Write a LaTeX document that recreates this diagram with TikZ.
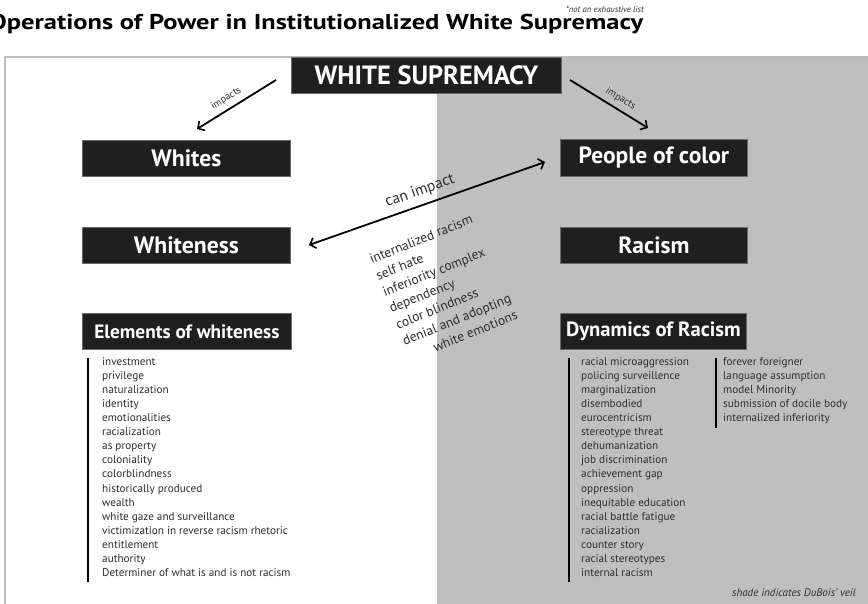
\documentclass[tikz,border=0pt]{standalone}
\usepackage{fontspec}
\usepackage{graphicx}
\setmainfont{PT Sans}
\usetikzlibrary{arrows.meta}

\definecolor{veil}{gray}{0.75}
\definecolor{boxfill}{HTML}{1F1F1F}
\definecolor{boxline}{HTML}{6A6A6A}
\definecolor{ink}{HTML}{2E2E2E}
\definecolor{frameline}{HTML}{BDBDBD}

\begin{document}
\begin{tikzpicture}[x=1pt,y=-1pt,
  titlebox/.style={fill=boxfill, draw=boxline, line width=0.8pt, text=white,
    font=\bfseries, inner sep=0pt, anchor=north west, minimum height=36pt},
  impactarrow/.style={line width=1.8pt, draw=black,
    -{Straight Barb[length=5pt,width=11pt,line width=1.6pt]}},
  arrowlabel/.style={text=ink, font=\fontsize{10}{12}\selectfont, sloped, above, inner sep=5pt},
  itemlist/.style={text=ink, align=left, anchor=north west, inner sep=0pt,
    font=\fontsize{11.2}{14.1}\selectfont},
  listbar/.style={line width=2.5pt, draw=black},
]
\useasboundingbox (0,0) rectangle (868,604);

% the veil and the outer frame
\fill[white] (0,0) rectangle (868,604);
\fill[veil] (437,57) rectangle (868,604);
\draw[frameline, line width=1.6pt] (5,620) -- (5,57) -- (880,57);

% heading
\node[anchor=base west, inner sep=0pt] (title) at (-11,30)
  {\resizebox{654pt}{\height}{\fontsize{21.5}{26}\selectfont\bfseries Operations of Power in Institutionalized White Supremacy}};
\node[anchor=base east, inner sep=0pt, text=ink] (note) at (644,13)
  {\fontsize{8.6}{10}\selectfont\itshape *not an exhaustive list};

% headline boxes
\node[titlebox, minimum width=270pt] (ws) at (291,57) {\fontsize{26.4}{30}\selectfont WHITE SUPREMACY};
\node[titlebox, minimum width=208pt] (whites) at (82,140) {\fontsize{23.7}{28}\selectfont Whites};
\node[titlebox, minimum width=208pt] (whiteness) at (82,227) {\fontsize{23.7}{28}\selectfont Whiteness};
\node[titlebox, minimum width=209pt] (elements) at (82,313) {\fontsize{19.3}{23}\selectfont Elements of whiteness};
\node[titlebox, minimum width=187pt, minimum height=37pt] (poc) at (560,139) {\fontsize{23.5}{28}\selectfont People of color};
\node[titlebox, minimum width=187pt] (racism) at (560,227) {\fontsize{23.5}{28}\selectfont Racism};
\node[titlebox, minimum width=186pt] (dynamics) at (560,313) {\fontsize{20.6}{24}\selectfont Dynamics of Racism};

% arrow end points
\coordinate (wsL) at (276,80);
\coordinate (whitesTop) at (197,129);
\coordinate (wsR) at (570,80);
\coordinate (pocTop) at (648,128);
\coordinate (wnR) at (309,245);
\coordinate (pocL) at (545,162);

\draw[impactarrow] (wsL) -- node[arrowlabel, pos=0.56] {impacts} (whitesTop);
\draw[impactarrow] (wsR) -- node[arrowlabel, pos=0.58] {impacts} (pocTop);
\draw[impactarrow, {Straight Barb[length=5pt,width=11pt,line width=1.6pt]}-{Straight Barb[length=5pt,width=11pt,line width=1.6pt]}]
  (wnR) -- node[sloped, above, pos=0.49, inner sep=6pt, text=ink, font=\fontsize{15.5}{18}\selectfont] {can impact} (pocL);

% effects listed along the two-way arrow
\node[rotate=22, anchor=north west, inner sep=0pt, align=left, text=ink,
      font=\fontsize{13.5}{17.6}\selectfont] (effects) at (368,255)
  {internalized racism\\ self hate\\ inferiority complex\\ dependency\\ color blindness\\
   denial and adopting\\ \hspace*{26pt}white emotions};

% elements of whiteness
\node[itemlist] (elist) at (102,357)
  {investment\\ privilege\\ naturalization\\ identity\\ emotionalities\\ racialization\\
   as property\\ coloniality\\ colorblindness\\ historically produced\\ wealth\\
   white gaze and surveillance\\ victimization in reverse racism rhetoric\\ entitlement\\
   authority\\ Determiner of what is and is not racism};
\draw[listbar] (88,358) -- (88,582);

% dynamics of racism, two columns
\node[itemlist] (dlistA) at (581,357)
  {racial microaggression\\ policing surveillence\\ marginalization\\ disembodied\\
   eurocentricism\\ stereotype threat\\ dehumanization\\ job discrimination\\
   achievement gap\\ oppression\\ inequitable education\\ racial battle fatigue\\
   racialization\\ counter story\\ racial stereotypes\\ internal racism};
\draw[listbar] (569,358) -- (569,582);
\node[itemlist] (dlistB) at (723,357)
  {forever foreigner\\ language assumption\\ model Minority\\ submission of docile body\\
   internalized inferiority};
\draw[listbar] (716,358) -- (716,428);

\node[anchor=east, inner sep=0pt, text=ink, font=\fontsize{11}{13}\selectfont\itshape] (shade) at (856,593)
  {shade indicates DuBois' veil};
\end{tikzpicture}
\end{document}
